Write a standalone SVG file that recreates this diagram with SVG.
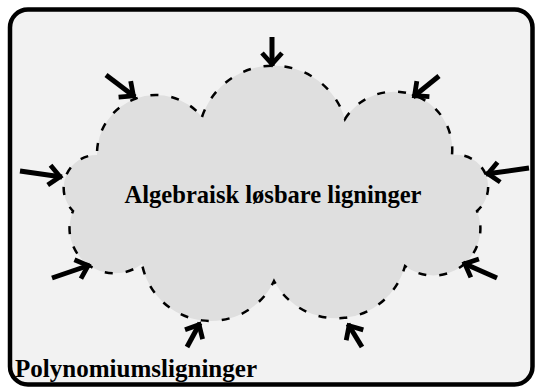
<svg xmlns="http://www.w3.org/2000/svg" width="535" height="387" viewBox="0 0 535 387">
  <style>
    .frame { fill: #f2f2f2; stroke: #000; stroke-width: 4.5; }
    .cloud { fill: #dfdfdf; stroke: #000; stroke-width: 2.5; stroke-dasharray: 8 13; }
    .label { font-family: "Liberation Serif", "DejaVu Serif", serif; font-weight: bold; font-size: 25px; fill: #000; }
    .arrow { stroke: #000; stroke-width: 5; fill: none; marker-end: url(#head); }
  </style>
  <defs>
    <marker id="head" markerUnits="userSpaceOnUse" orient="auto" refX="0" refY="0" markerWidth="30" markerHeight="30" overflow="visible">
      <path d="M-13,-10 L-2,0 L-13,10" fill="none" stroke="#000" stroke-width="4.8" stroke-linejoin="miter"/>
    </marker>
  </defs>

  <!-- outer set: all polynomial equations -->
  <g id="polynomial-equations">
    <rect class="frame" x="10" y="9.5" width="522.5" height="375" rx="18" ry="18"/>
    <text class="label" x="15" y="377" textLength="242" lengthAdjust="spacingAndGlyphs">Polynomiumsligninger</text>
  </g>

  <!-- inner cloud: algebraically solvable equations -->
  <g id="solvable-equations">
    <path class="cloud" d="M202,117 A75,75 0 0 1 345,119 A58,58 0 0 1 452,155 A32,32 0 0 1 477,211 A47,47 0 0 1 405,266 A71,71 0 0 1 274,281 A70,70 0 0 1 142,264 A45,45 0 0 1 73,211 A33,33 0 0 1 97,155 A59,59 0 0 1 202,117 Z"/>
    <text class="label" x="273" y="203" text-anchor="middle" textLength="297" lengthAdjust="spacingAndGlyphs">Algebraisk løsbare ligninger</text>
  </g>

  <!-- arrows pressing on the cloud boundary -->
  <g id="connectors">
    <line class="arrow" x1="272" y1="37" x2="272" y2="66"/>
    <line class="arrow" x1="106" y1="75" x2="135" y2="97"/>
    <line class="arrow" x1="20" y1="171" x2="62" y2="177"/>
    <line class="arrow" x1="439" y1="76" x2="413" y2="97"/>
    <line class="arrow" x1="529" y1="168" x2="486" y2="174"/>
    <line class="arrow" x1="52" y1="278" x2="90" y2="265"/>
    <line class="arrow" x1="187" y1="347" x2="200" y2="323"/>
    <line class="arrow" x1="362" y1="347" x2="348" y2="324"/>
    <line class="arrow" x1="497" y1="278" x2="463" y2="263"/>
  </g>
</svg>
